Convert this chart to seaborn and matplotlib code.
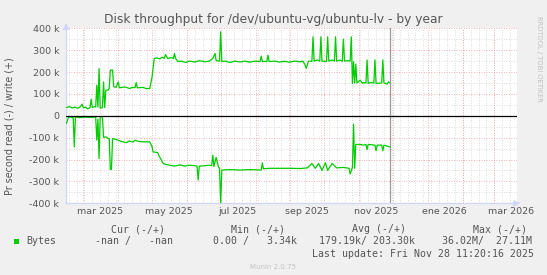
import matplotlib
matplotlib.use("Agg")
import matplotlib.pyplot as plt
from matplotlib.patches import Rectangle
import pandas as pd
import seaborn as sns

# ---------------- data ----------------
write_dates = ["2025-02-14", "2025-02-17", "2025-02-19", "2025-02-22", "2025-02-24", "2025-02-26",
               "2025-02-28", "2025-03-01", "2025-03-03", "2025-03-05", "2025-03-07", "2025-03-08",
               "2025-03-09", "2025-03-11", "2025-03-12", "2025-03-13", "2025-03-14", "2025-03-15",
               "2025-03-16", "2025-03-18", "2025-03-19", "2025-03-20", "2025-03-21", "2025-03-23",
               "2025-03-24", "2025-03-25", "2025-03-27", "2025-03-28", "2025-03-30", "2025-04-01",
               "2025-04-02", "2025-04-07", "2025-04-11", "2025-04-14", "2025-04-16", "2025-04-17",
               "2025-04-18", "2025-04-23", "2025-04-26", "2025-04-29", "2025-05-01", "2025-05-03",
               "2025-05-05", "2025-05-08", "2025-05-10", "2025-05-12", "2025-05-13", "2025-05-15",
               "2025-05-18", "2025-05-20", "2025-05-21", "2025-05-22", "2025-05-24", "2025-05-27",
               "2025-05-31", "2025-06-03", "2025-06-08", "2025-06-12", "2025-06-17", "2025-06-21",
               "2025-06-24", "2025-06-26", "2025-06-27", "2025-06-30", "2025-07-01", "2025-07-02",
               "2025-07-05", "2025-07-09", "2025-07-14", "2025-07-18", "2025-07-23", "2025-07-27",
               "2025-07-31", "2025-08-05", "2025-08-06", "2025-08-07", "2025-08-11", "2025-08-12",
               "2025-08-13", "2025-08-18", "2025-08-22", "2025-08-27", "2025-08-31", "2025-09-05",
               "2025-09-09", "2025-09-12", "2025-09-14", "2025-09-15", "2025-09-17", "2025-09-20",
               "2025-09-21", "2025-09-22", "2025-09-25", "2025-09-27", "2025-09-28", "2025-09-29",
               "2025-10-03", "2025-10-04", "2025-10-05", "2025-10-08", "2025-10-10", "2025-10-11",
               "2025-10-12", "2025-10-15", "2025-10-17", "2025-10-18", "2025-10-19", "2025-10-22",
               "2025-10-24", "2025-10-25", "2025-10-26", "2025-10-27", "2025-10-28", "2025-10-29",
               "2025-10-30", "2025-11-02", "2025-11-04", "2025-11-05", "2025-11-07", "2025-11-08",
               "2025-11-09", "2025-11-11", "2025-11-14", "2025-11-15", "2025-11-16", "2025-11-20",
               "2025-11-21", "2025-11-22", "2025-11-23", "2025-11-26", "2025-11-27", "2025-11-28"]
write_k = [38, 42, 36, 40, 34, 40,
           53, 36, 40, 32, 38, 76,
           38, 42, 40, 140, 40, 216,
           35, 38, 155, 38, 117, 118,
           125, 209, 209, 133, 130, 155,
           128, 132, 125, 130, 129, 152,
           128, 130, 124, 125, 175, 262,
           265, 260, 268, 263, 280, 262,
           266, 262, 285, 262, 248, 250,
           244, 250, 246, 252, 247, 250,
           262, 285, 252, 250, 384, 248,
           250, 244, 250, 246, 250, 245,
           250, 248, 273, 248, 249, 277,
           248, 250, 246, 249, 245, 250,
           247, 250, 232, 217, 250, 249,
           361, 250, 255, 250, 361, 250,
           248, 361, 250, 255, 250, 361,
           250, 255, 249, 350, 250, 252,
           250, 361, 148, 247, 150, 236,
           150, 163, 148, 152, 150, 255,
           148, 152, 150, 256, 148, 150,
           150, 256, 150, 145, 155, 151]

read_dates = ["2025-02-14", "2025-02-16", "2025-02-19", "2025-02-20", "2025-02-21", "2025-02-22",
              "2025-02-26", "2025-03-02", "2025-03-07", "2025-03-12", "2025-03-13", "2025-03-14",
              "2025-03-15", "2025-03-16", "2025-03-18", "2025-03-19", "2025-03-21", "2025-03-23",
              "2025-03-24", "2025-03-25", "2025-03-26", "2025-03-27", "2025-03-30", "2025-04-02",
              "2025-04-08", "2025-04-11", "2025-04-14", "2025-04-16", "2025-04-20", "2025-04-24",
              "2025-04-29", "2025-05-01", "2025-05-02", "2025-05-06", "2025-05-08", "2025-05-11",
              "2025-05-13", "2025-05-17", "2025-05-21", "2025-05-26", "2025-05-30", "2025-06-03",
              "2025-06-08", "2025-06-10", "2025-06-11", "2025-06-12", "2025-06-17", "2025-06-21",
              "2025-06-23", "2025-06-24", "2025-06-25", "2025-06-27", "2025-06-29", "2025-06-30",
              "2025-07-01", "2025-07-02", "2025-07-09", "2025-07-18", "2025-07-27", "2025-08-06",
              "2025-08-07", "2025-08-08", "2025-08-14", "2025-08-23", "2025-09-01", "2025-09-10",
              "2025-09-16", "2025-09-20", "2025-09-23", "2025-09-26", "2025-09-29", "2025-10-02",
              "2025-10-04", "2025-10-08", "2025-10-12", "2025-10-18", "2025-10-23", "2025-10-24",
              "2025-10-26", "2025-10-27", "2025-10-28", "2025-10-29", "2025-11-02", "2025-11-05",
              "2025-11-07", "2025-11-08", "2025-11-09", "2025-11-15", "2025-11-16", "2025-11-17",
              "2025-11-21", "2025-11-22", "2025-11-23", "2025-11-28"]
read_k = [35, 5, 7, 6, 142, 6,
          8, 6, 7, 6, 111, 15,
          195, 5, 5, 99, 96, 104,
          104, 245, 245, 104, 108, 114,
          123, 115, 120, 112, 118, 119,
          119, 140, 165, 168, 190, 218,
          222, 226, 230, 224, 230, 226,
          228, 230, 294, 230, 228, 226,
          228, 180, 232, 190, 235, 240,
          400, 248, 246, 248, 246, 248,
          215, 242, 240, 240, 240, 241,
          238, 218, 240, 218, 250, 215,
          250, 218, 238, 236, 240, 266,
          236, 38, 240, 131, 131, 134,
          131, 155, 131, 134, 160, 134,
          134, 160, 134, 142]

ytick_k = [-400, -300, -200, -100, 0, 100, 200, 300, 400]
ytick_labels = ["-400 k", "-300 k", "-200 k", "-100 k", "0", "100 k", "200 k", "300 k", "400 k"]
xlabel_months = ["2025-03-01", "2025-05-01", "2025-07-01", "2025-09-01", "2025-11-01", "2026-01-01", "2026-03-01"]
xlabel_texts = ["mar 2025", "may 2025", "jul 2025", "sep 2025", "nov 2025", "ene 2026", "mar 2026"]
last_update = "2025-11-28 11:20:16"

legend_heads = ["Cur (-/+)", "Min (-/+)", "Avg (-/+)", "Max (-/+)"]
legend_vals = ["-nan /   -nan", "0.00 /   3.34k", "179.19k/ 203.30k", "36.02M/  27.11M"]

# ---------------- style ----------------
sns.set_style("white")
plt.rcParams["font.family"] = ["DejaVu Sans"]
W, H = 547, 275
TXT = "#555555"
GREEN = "#00CC00"
AXC = "#CFD6F8"

def fx(px):
    return px / W

def fy(py):
    return 1 - py / H

fig = plt.figure(figsize=(W / 100, H / 100), dpi=100, facecolor="#F0F0F0")
ax = fig.add_axes([fx(66), fy(203.3), 451 / W, 175 / H])
ax.set_facecolor("white")

x0 = pd.Timestamp("2025-02-13 15:20")
x1 = pd.Timestamp("2026-03-21 03:50")

# grid
for d in pd.date_range("2025-02-16", x1, freq="W-SUN"):
    ax.axvline(d, color="#CFCFCF", lw=0.6, ls=(0, (1, 2)), zorder=0.4)
for d in pd.date_range("2025-03-01", x1, freq="MS"):
    ax.axvline(d, color="#EE9A9A", lw=0.6, ls=(0, (1, 2)), zorder=0.5)
for v in range(-350, 400, 100):
    ax.axhline(v * 1000, color="#CFCFCF", lw=0.6, ls=(0, (1, 2)), zorder=0.4)
for v in ytick_k:
    if v not in (0, -400):
        ax.axhline(v * 1000, color="#EE9A9A", lw=0.6, ls=(0, (1, 2)), zorder=0.5)

df = pd.concat([
    pd.DataFrame({"date": pd.to_datetime(write_dates), "value": [v * 1000 for v in write_k], "series": "write"}),
    pd.DataFrame({"date": pd.to_datetime(read_dates), "value": [-v * 1000 for v in read_k], "series": "read"}),
])
sns.lineplot(data=df, x="date", y="value", hue="series", palette={"write": GREEN, "read": GREEN},
             estimator=None, sort=False, lw=0.9, legend=False, ax=ax, zorder=3)

ax.axhline(0, color="black", lw=0.9, zorder=4)
ax.axvline(pd.Timestamp(last_update), color="#999999", lw=0.9, zorder=2)

ax.set_xlim(x0, x1)
ax.set_ylim(-400000, 400000)
ax.set_yticks([v * 1000 for v in ytick_k])
ax.set_yticklabels(ytick_labels)
mids = [pd.Timestamp(m) + pd.Timedelta(days=15) for m in xlabel_months]
ax.set_xticks(mids)
ax.set_xticklabels(xlabel_texts)
ax.tick_params(axis="both", length=0, labelsize=6.8, labelcolor=TXT)
ax.tick_params(axis="y", pad=4.8)
ax.tick_params(axis="x", pad=2.5)
ax.set_xlabel("")
ax.set_ylabel("")
for s in ["top", "right"]:
    ax.spines[s].set_visible(False)
for s in ["left", "bottom"]:
    ax.spines[s].set_color(AXC)
    ax.spines[s].set_linewidth(0.9)

# axis arrows
ax.annotate("", xy=(0, 1.045), xytext=(0, 0.99), xycoords="axes fraction",
            arrowprops=dict(arrowstyle="-|>,head_width=0.18,head_length=0.35", color=AXC, lw=0.9),
            annotation_clip=False)
ax.annotate("", xy=(1.013, 0), xytext=(0.995, 0), xycoords="axes fraction",
            arrowprops=dict(arrowstyle="-|>,head_width=0.18,head_length=0.35", color=AXC, lw=0.9),
            annotation_clip=False)

# texts
fig.text(0.5, fy(19.5), "Disk throughput for /dev/ubuntu-vg/ubuntu-lv - by year",
         ha="center", va="center", fontsize=8.8, color=TXT)
fig.text(fx(10), fy(125.8), "Pr second read (-) / write (+)", rotation=90,
         ha="center", va="center", fontsize=6.9, color=TXT)
fig.text(fx(539), fy(58.5), "RRDTOOL / TOBI OETIKER", rotation=270,
         ha="center", va="center", fontsize=4.9, color="#C0C0C0")

mono = dict(family="DejaVu Sans Mono", fontsize=7.1, color=TXT, va="center", ha="left")
for t, xp in zip(legend_heads, [111, 231, 352, 473]):
    fig.text(fx(xp), fy(229.2), t, **mono)
fig.patches.append(Rectangle((fx(14), fy(244.2)), 5.4 / W, 5.6 / H, transform=fig.transFigure,
                             facecolor=GREEN, edgecolor="none"))
fig.text(fx(26), fy(241.4), "Bytes", **mono)
for t, xp in zip(legend_vals, [95, 213, 319, 442]):
    fig.text(fx(xp), fy(241.4), t, **mono)
fig.text(fx(311.5), fy(253.6), "Last update: Fri Nov 28 11:20:16 2025", **mono)
fig.text(fx(272.7), fy(267.2), "Munin 2.0.75", ha="center", va="center", fontsize=5, color="#C4C4C4")

fig.savefig("out.png", dpi=100, facecolor=fig.get_facecolor())
